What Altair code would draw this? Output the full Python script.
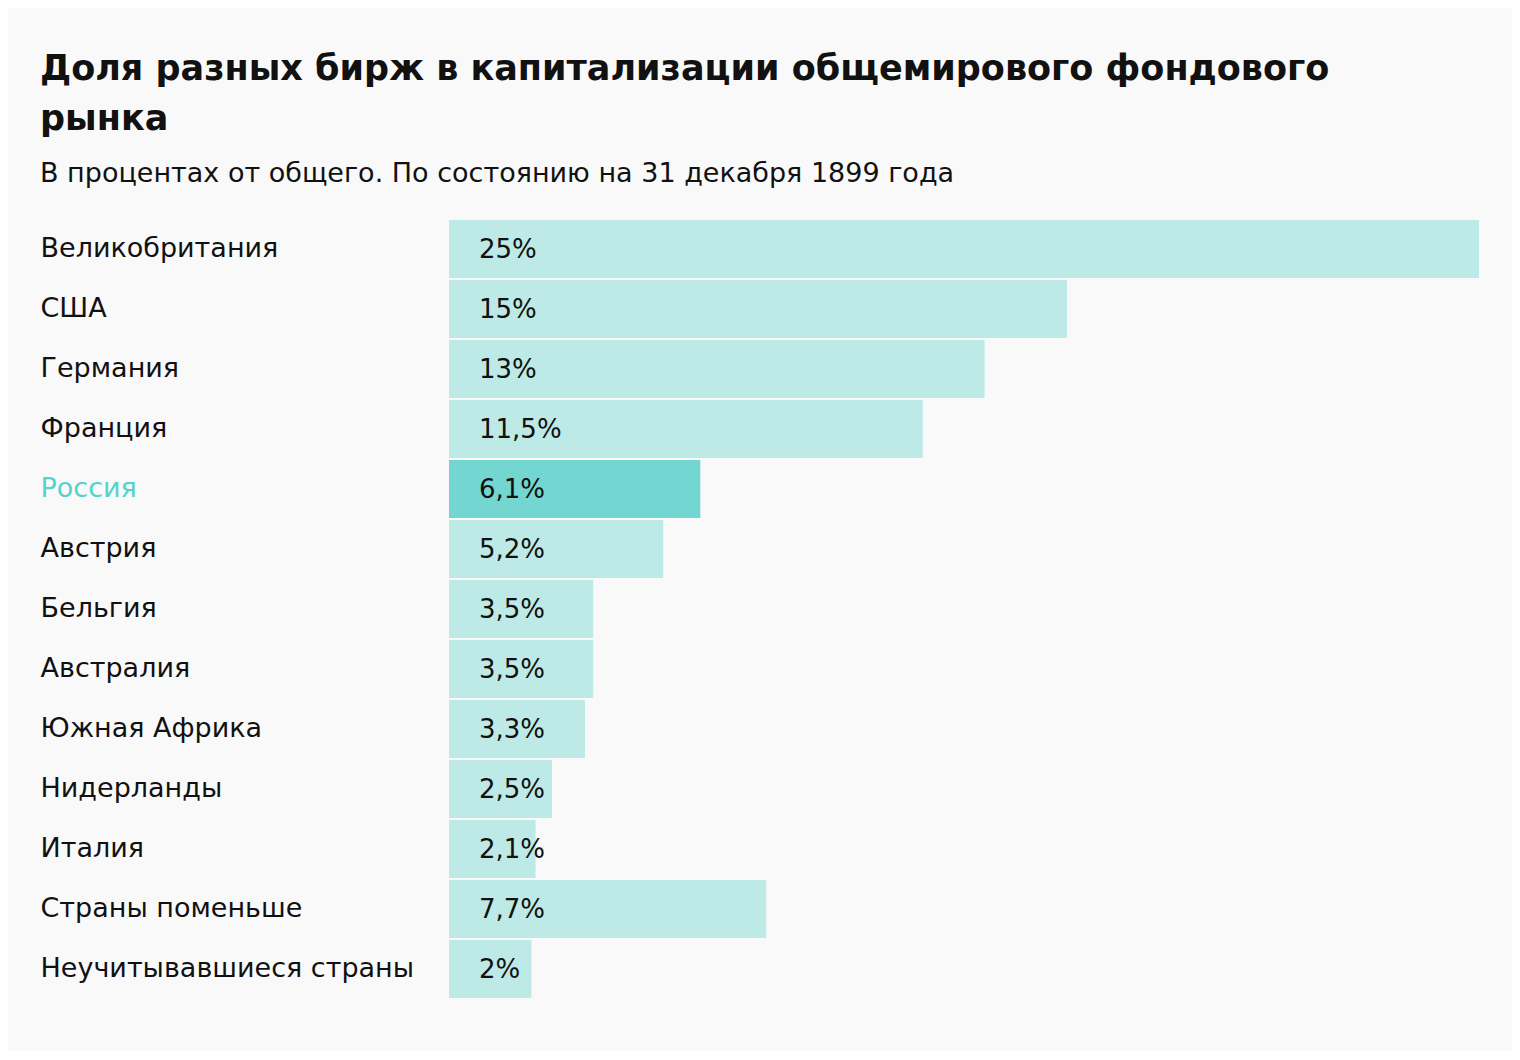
import altair as alt
import pandas as pd

countries = ["Великобритания", "США", "Германия", "Франция", "Россия", "Австрия",
             "Бельгия", "Австралия", "Южная Африка", "Нидерланды", "Италия",
             "Страны поменьше", "Неучитывавшиеся страны"]
shares = [25, 15, 13, 11.5, 6.1, 5.2, 3.5, 3.5, 3.3, 2.5, 2.1, 7.7, 2]
value_labels = ["25%", "15%", "13%", "11,5%", "6,1%", "5,2%", "3,5%", "3,5%",
                "3,3%", "2,5%", "2,1%", "7,7%", "2%"]
highlight = "Россия"

df = pd.DataFrame({"country": countries, "share": shares, "label": value_labels})
df["hl"] = df["country"] == highlight

FONT = "DejaVu Sans"

y_enc = alt.Y("country:N", sort=countries, title=None,
              scale=alt.Scale(paddingInner=2 / 60, paddingOuter=1 / 60),
              axis=alt.Axis(domain=False, ticks=False, grid=False,
                            labelAlign="left", labelPadding=409, labelLimit=420,
                            labelFontSize=27, labelFont=FONT,
                            labelColor=alt.expr("datum.value == 'Россия' ? '#55d2ca' : '#111111'")))

bars = alt.Chart(df).mark_bar(cornerRadius=0).encode(
    x=alt.X("share:Q", scale=alt.Scale(domain=[0, 25], nice=False), axis=None, title=None),
    y=y_enc,
    color=alt.Color("hl:N", scale=alt.Scale(domain=[False, True], range=["#bdeae6", "#73d6d0"]), legend=None),
)

texts = alt.Chart(df).mark_text(align="left", baseline="middle", dx=30, dy=1,
                                fontSize=26, font=FONT, color="#111111").encode(
    x=alt.datum(0),
    y=alt.Y("country:N", sort=countries),
    text="label:N",
)

chart = alt.layer(bars, texts).properties(
    width=1030, height=780,
    title=alt.TitleParams(
        text=["Доля разных бирж в капитализации общемирового фондового", "рынка"],
        subtitle="В процентах от общего. По состоянию на 31 декабря 1899 года",
        anchor="start", frame="bounds", font=FONT, fontSize=35, fontWeight="bold",
        lineHeight=50, color="#111111",
        subtitleFont=FONT, subtitleFontSize=27, subtitleColor="#111111",
        subtitlePadding=24, offset=32,
    ),
    background="#f9f9f9",
    padding={"left": 32, "top": 44, "right": 33, "bottom": 52},
).configure_view(stroke=None)

chart.save("out.html", embed_options={"renderer": "svg", "actions": False})
